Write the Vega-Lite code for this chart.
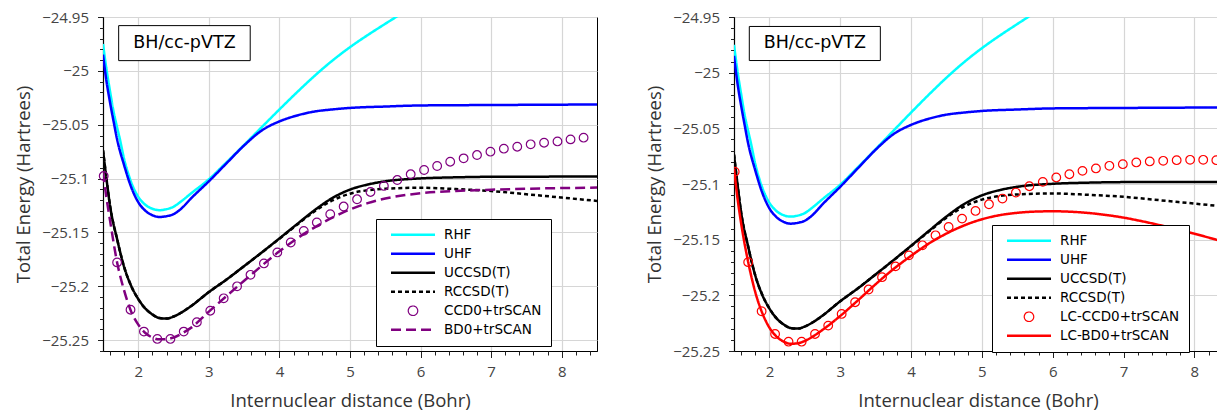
{
  "$schema": "https://vega.github.io/schema/vega-lite/v6.json",
  "padding": {"left": 14, "top": 9, "right": 0, "bottom": 1},
  "config": {
    "view": {"stroke": "black", "strokeWidth": 1},
    "axis": {"labelFont": "Open Sans", "labelFontSize": 15, "labelColor": "#444", "titleFont": "Open Sans", "titleFontSize": 18.5, "titleFontWeight": "normal", "titleColor": "#333", "domainColor": "black", "domainWidth": 1.2, "tickColor": "#222", "gridColor": "#d6d6d6", "gridWidth": 1.2}
  },
  "datasets": {
    "common": [
      {"series": "RHF", "x": 1.5, "y": -24.975}, {"series": "RHF", "x": 1.55, "y": -24.999}, {"series": "RHF", "x": 1.6, "y": -25.019}, {"series": "RHF", "x": 1.65, "y": -25.038}, {"series": "RHF", "x": 1.7, "y": -25.0525}, {"series": "RHF", "x": 1.74, "y": -25.0636}, {"series": "RHF", "x": 1.8, "y": -25.082}, {"series": "RHF", "x": 1.9, "y": -25.1034}, {"series": "RHF", "x": 2.0, "y": -25.1169}, {"series": "RHF", "x": 2.1, "y": -25.1243}, {"series": "RHF", "x": 2.2, "y": -25.128}, {"series": "RHF", "x": 2.3, "y": -25.1293}, {"series": "RHF", "x": 2.4, "y": -25.1284}, {"series": "RHF", "x": 2.5, "y": -25.1261}, {"series": "RHF", "x": 2.6, "y": -25.1215}, {"series": "RHF", "x": 2.75, "y": -25.1136}, {"series": "RHF", "x": 3.0, "y": -25.1006}, {"series": "RHF", "x": 3.25, "y": -25.0849}, {"series": "RHF", "x": 3.5, "y": -25.0687}, {"series": "RHF", "x": 3.75, "y": -25.0522}, {"series": "RHF", "x": 4.0, "y": -25.0358}, {"series": "RHF", "x": 4.25, "y": -25.0198}, {"series": "RHF", "x": 4.5, "y": -25.0045}, {"series": "RHF", "x": 4.75, "y": -24.9905}, {"series": "RHF", "x": 5.0, "y": -24.978}, {"series": "RHF", "x": 5.25, "y": -24.9668}, {"series": "RHF", "x": 5.5, "y": -24.9563}, {"series": "RHF", "x": 5.75, "y": -24.946},
      {"series": "UHF", "x": 1.5, "y": -24.985}, {"series": "UHF", "x": 1.55, "y": -25.01}, {"series": "UHF", "x": 1.6, "y": -25.0294}, {"series": "UHF", "x": 1.65, "y": -25.0469}, {"series": "UHF", "x": 1.7, "y": -25.0636}, {"series": "UHF", "x": 1.8, "y": -25.0877}, {"series": "UHF", "x": 1.9, "y": -25.108}, {"series": "UHF", "x": 2.0, "y": -25.1219}, {"series": "UHF", "x": 2.1, "y": -25.1298}, {"series": "UHF", "x": 2.2, "y": -25.134}, {"series": "UHF", "x": 2.3, "y": -25.1356}, {"series": "UHF", "x": 2.4, "y": -25.1349}, {"series": "UHF", "x": 2.5, "y": -25.133}, {"series": "UHF", "x": 2.6, "y": -25.1284}, {"series": "UHF", "x": 2.75, "y": -25.1182}, {"series": "UHF", "x": 3.0, "y": -25.1025}, {"series": "UHF", "x": 3.25, "y": -25.0858}, {"series": "UHF", "x": 3.5, "y": -25.0692}, {"series": "UHF", "x": 3.75, "y": -25.0553}, {"series": "UHF", "x": 4.0, "y": -25.0469}, {"series": "UHF", "x": 4.25, "y": -25.0414}, {"series": "UHF", "x": 4.5, "y": -25.0377}, {"series": "UHF", "x": 4.75, "y": -25.0358}, {"series": "UHF", "x": 5.0, "y": -25.0344}, {"series": "UHF", "x": 5.5, "y": -25.0331}, {"series": "UHF", "x": 6.0, "y": -25.0321}, {"series": "UHF", "x": 7.0, "y": -25.0317}, {"series": "UHF", "x": 8.5, "y": -25.0312},
      {"series": "UCCSD(T)", "x": 1.5, "y": -25.0737}, {"series": "UCCSD(T)", "x": 1.55, "y": -25.1006}, {"series": "UCCSD(T)", "x": 1.6, "y": -25.1254}, {"series": "UCCSD(T)", "x": 1.7, "y": -25.1562}, {"series": "UCCSD(T)", "x": 1.8, "y": -25.1821}, {"series": "UCCSD(T)", "x": 1.9, "y": -25.1997}, {"series": "UCCSD(T)", "x": 2.0, "y": -25.2118}, {"series": "UCCSD(T)", "x": 2.1, "y": -25.2206}, {"series": "UCCSD(T)", "x": 2.2, "y": -25.2261}, {"series": "UCCSD(T)", "x": 2.3, "y": -25.2294}, {"series": "UCCSD(T)", "x": 2.4, "y": -25.2299}, {"series": "UCCSD(T)", "x": 2.5, "y": -25.228}, {"series": "UCCSD(T)", "x": 2.6, "y": -25.2247}, {"series": "UCCSD(T)", "x": 2.75, "y": -25.2182}, {"series": "UCCSD(T)", "x": 3.0, "y": -25.2053}, {"series": "UCCSD(T)", "x": 3.25, "y": -25.1937}, {"series": "UCCSD(T)", "x": 3.5, "y": -25.1812}, {"series": "UCCSD(T)", "x": 3.75, "y": -25.1685}, {"series": "UCCSD(T)", "x": 4.0, "y": -25.1555}, {"series": "UCCSD(T)", "x": 4.25, "y": -25.1422}, {"series": "UCCSD(T)", "x": 4.5, "y": -25.1292}, {"series": "UCCSD(T)", "x": 4.75, "y": -25.118}, {"series": "UCCSD(T)", "x": 5.0, "y": -25.1102}, {"series": "UCCSD(T)", "x": 5.25, "y": -25.1055}, {"series": "UCCSD(T)", "x": 5.5, "y": -25.1025}, {"series": "UCCSD(T)", "x": 6.0, "y": -25.0998}, {"series": "UCCSD(T)", "x": 6.5, "y": -25.0988}, {"series": "UCCSD(T)", "x": 7.0, "y": -25.0983}, {"series": "UCCSD(T)", "x": 8.5, "y": -25.0981},
      {"series": "RCCSD(T)", "x": 1.5, "y": -25.0737}, {"series": "RCCSD(T)", "x": 1.55, "y": -25.1006}, {"series": "RCCSD(T)", "x": 1.6, "y": -25.1254}, {"series": "RCCSD(T)", "x": 1.7, "y": -25.1562}, {"series": "RCCSD(T)", "x": 1.8, "y": -25.1821}, {"series": "RCCSD(T)", "x": 1.9, "y": -25.1997}, {"series": "RCCSD(T)", "x": 2.0, "y": -25.2118}, {"series": "RCCSD(T)", "x": 2.1, "y": -25.2206}, {"series": "RCCSD(T)", "x": 2.2, "y": -25.2261}, {"series": "RCCSD(T)", "x": 2.3, "y": -25.2294}, {"series": "RCCSD(T)", "x": 2.4, "y": -25.2299}, {"series": "RCCSD(T)", "x": 2.5, "y": -25.228}, {"series": "RCCSD(T)", "x": 2.6, "y": -25.2247}, {"series": "RCCSD(T)", "x": 2.75, "y": -25.2182}, {"series": "RCCSD(T)", "x": 3.0, "y": -25.2053}, {"series": "RCCSD(T)", "x": 3.25, "y": -25.1937}, {"series": "RCCSD(T)", "x": 3.5, "y": -25.1812}, {"series": "RCCSD(T)", "x": 3.75, "y": -25.1686}, {"series": "RCCSD(T)", "x": 4.0, "y": -25.1558}, {"series": "RCCSD(T)", "x": 4.25, "y": -25.1428}, {"series": "RCCSD(T)", "x": 4.5, "y": -25.1302}, {"series": "RCCSD(T)", "x": 4.75, "y": -25.1203}, {"series": "RCCSD(T)", "x": 5.0, "y": -25.114}, {"series": "RCCSD(T)", "x": 5.25, "y": -25.1108}, {"series": "RCCSD(T)", "x": 5.5, "y": -25.1094}, {"series": "RCCSD(T)", "x": 6.0, "y": -25.1085}, {"series": "RCCSD(T)", "x": 6.5, "y": -25.1097}, {"series": "RCCSD(T)", "x": 7.0, "y": -25.1115}, {"series": "RCCSD(T)", "x": 7.5, "y": -25.1145}, {"series": "RCCSD(T)", "x": 8.0, "y": -25.1176}, {"series": "RCCSD(T)", "x": 8.5, "y": -25.1207}
    ],
    "bd0": [
      {"series": "BD0+trSCAN", "x": 1.5, "y": -25.094}, {"series": "BD0+trSCAN", "x": 1.55, "y": -25.118}, {"series": "BD0+trSCAN", "x": 1.6, "y": -25.139}, {"series": "BD0+trSCAN", "x": 1.7, "y": -25.1778}, {"series": "BD0+trSCAN", "x": 1.8, "y": -25.204}, {"series": "BD0+trSCAN", "x": 1.9, "y": -25.2235}, {"series": "BD0+trSCAN", "x": 2.0, "y": -25.2355}, {"series": "BD0+trSCAN", "x": 2.1, "y": -25.2433}, {"series": "BD0+trSCAN", "x": 2.2, "y": -25.2475}, {"series": "BD0+trSCAN", "x": 2.3, "y": -25.2492}, {"series": "BD0+trSCAN", "x": 2.4, "y": -25.249}, {"series": "BD0+trSCAN", "x": 2.5, "y": -25.2475}, {"series": "BD0+trSCAN", "x": 2.6, "y": -25.2444}, {"series": "BD0+trSCAN", "x": 2.75, "y": -25.2383}, {"series": "BD0+trSCAN", "x": 3.0, "y": -25.2235}, {"series": "BD0+trSCAN", "x": 3.25, "y": -25.209}, {"series": "BD0+trSCAN", "x": 3.5, "y": -25.1948}, {"series": "BD0+trSCAN", "x": 3.75, "y": -25.1808}, {"series": "BD0+trSCAN", "x": 4.0, "y": -25.1675}, {"series": "BD0+trSCAN", "x": 4.25, "y": -25.1555}, {"series": "BD0+trSCAN", "x": 4.5, "y": -25.1452}, {"series": "BD0+trSCAN", "x": 4.75, "y": -25.1362}, {"series": "BD0+trSCAN", "x": 5.0, "y": -25.1286}, {"series": "BD0+trSCAN", "x": 5.25, "y": -25.1228}, {"series": "BD0+trSCAN", "x": 5.5, "y": -25.1185}, {"series": "BD0+trSCAN", "x": 6.0, "y": -25.1136}, {"series": "BD0+trSCAN", "x": 6.5, "y": -25.1115}, {"series": "BD0+trSCAN", "x": 7.0, "y": -25.1103}, {"series": "BD0+trSCAN", "x": 7.5, "y": -25.1094}, {"series": "BD0+trSCAN", "x": 8.0, "y": -25.1088}, {"series": "BD0+trSCAN", "x": 8.5, "y": -25.1083}
    ],
    "ccd0": [
      {"series": "CCD0+trSCAN", "x": 1.51, "y": -25.0976}, {"series": "CCD0+trSCAN", "x": 1.7, "y": -25.1778}, {"series": "CCD0+trSCAN", "x": 1.89, "y": -25.2217}, {"series": "CCD0+trSCAN", "x": 2.08, "y": -25.242}, {"series": "CCD0+trSCAN", "x": 2.27, "y": -25.2488}, {"series": "CCD0+trSCAN", "x": 2.455, "y": -25.2488}, {"series": "CCD0+trSCAN", "x": 2.644, "y": -25.242}, {"series": "CCD0+trSCAN", "x": 2.83, "y": -25.2333}, {"series": "CCD0+trSCAN", "x": 3.02, "y": -25.2226}, {"series": "CCD0+trSCAN", "x": 3.21, "y": -25.2111}, {"series": "CCD0+trSCAN", "x": 3.4, "y": -25.2}, {"series": "CCD0+trSCAN", "x": 3.59, "y": -25.1893}, {"series": "CCD0+trSCAN", "x": 3.78, "y": -25.1787}, {"series": "CCD0+trSCAN", "x": 3.97, "y": -25.1685}, {"series": "CCD0+trSCAN", "x": 4.16, "y": -25.1593}, {"series": "CCD0+trSCAN", "x": 4.345, "y": -25.1485}, {"series": "CCD0+trSCAN", "x": 4.53, "y": -25.1407}, {"series": "CCD0+trSCAN", "x": 4.72, "y": -25.133}, {"series": "CCD0+trSCAN", "x": 4.91, "y": -25.1259}, {"series": "CCD0+trSCAN", "x": 5.1, "y": -25.1192}, {"series": "CCD0+trSCAN", "x": 5.29, "y": -25.1124}, {"series": "CCD0+trSCAN", "x": 5.48, "y": -25.1068}, {"series": "CCD0+trSCAN", "x": 5.67, "y": -25.1013}, {"series": "CCD0+trSCAN", "x": 5.86, "y": -25.096}, {"series": "CCD0+trSCAN", "x": 6.05, "y": -25.092}, {"series": "CCD0+trSCAN", "x": 6.235, "y": -25.0883}, {"series": "CCD0+trSCAN", "x": 6.42, "y": -25.0843}, {"series": "CCD0+trSCAN", "x": 6.61, "y": -25.0812}, {"series": "CCD0+trSCAN", "x": 6.8, "y": -25.0781}, {"series": "CCD0+trSCAN", "x": 6.99, "y": -25.075}, {"series": "CCD0+trSCAN", "x": 7.18, "y": -25.0722}, {"series": "CCD0+trSCAN", "x": 7.37, "y": -25.0704}, {"series": "CCD0+trSCAN", "x": 7.56, "y": -25.0682}, {"series": "CCD0+trSCAN", "x": 7.75, "y": -25.0667}, {"series": "CCD0+trSCAN", "x": 7.94, "y": -25.0655}, {"series": "CCD0+trSCAN", "x": 8.125, "y": -25.0636}, {"series": "CCD0+trSCAN", "x": 8.31, "y": -25.062}
    ],
    "lcbd0": [
      {"series": "LC-BD0+trSCAN", "x": 1.5, "y": -25.086}, {"series": "LC-BD0+trSCAN", "x": 1.55, "y": -25.113}, {"series": "LC-BD0+trSCAN", "x": 1.6, "y": -25.135}, {"series": "LC-BD0+trSCAN", "x": 1.7, "y": -25.17}, {"series": "LC-BD0+trSCAN", "x": 1.8, "y": -25.197}, {"series": "LC-BD0+trSCAN", "x": 1.9, "y": -25.216}, {"series": "LC-BD0+trSCAN", "x": 2.0, "y": -25.229}, {"series": "LC-BD0+trSCAN", "x": 2.1, "y": -25.237}, {"series": "LC-BD0+trSCAN", "x": 2.2, "y": -25.2415}, {"series": "LC-BD0+trSCAN", "x": 2.3, "y": -25.2435}, {"series": "LC-BD0+trSCAN", "x": 2.4, "y": -25.243}, {"series": "LC-BD0+trSCAN", "x": 2.5, "y": -25.241}, {"series": "LC-BD0+trSCAN", "x": 2.6, "y": -25.2375}, {"series": "LC-BD0+trSCAN", "x": 2.75, "y": -25.231}, {"series": "LC-BD0+trSCAN", "x": 3.0, "y": -25.2185}, {"series": "LC-BD0+trSCAN", "x": 3.25, "y": -25.2045}, {"series": "LC-BD0+trSCAN", "x": 3.5, "y": -25.19}, {"series": "LC-BD0+trSCAN", "x": 3.75, "y": -25.1765}, {"series": "LC-BD0+trSCAN", "x": 4.0, "y": -25.1645}, {"series": "LC-BD0+trSCAN", "x": 4.25, "y": -25.1535}, {"series": "LC-BD0+trSCAN", "x": 4.5, "y": -25.1445}, {"series": "LC-BD0+trSCAN", "x": 4.75, "y": -25.1372}, {"series": "LC-BD0+trSCAN", "x": 5.0, "y": -25.1317}, {"series": "LC-BD0+trSCAN", "x": 5.25, "y": -25.128}, {"series": "LC-BD0+trSCAN", "x": 5.5, "y": -25.1259}, {"series": "LC-BD0+trSCAN", "x": 5.75, "y": -25.1248}, {"series": "LC-BD0+trSCAN", "x": 6.0, "y": -25.1245}, {"series": "LC-BD0+trSCAN", "x": 6.25, "y": -25.1249}, {"series": "LC-BD0+trSCAN", "x": 6.5, "y": -25.126}, {"series": "LC-BD0+trSCAN", "x": 6.75, "y": -25.1278}, {"series": "LC-BD0+trSCAN", "x": 7.0, "y": -25.1302}, {"series": "LC-BD0+trSCAN", "x": 7.25, "y": -25.1333}, {"series": "LC-BD0+trSCAN", "x": 7.5, "y": -25.1368}, {"series": "LC-BD0+trSCAN", "x": 7.75, "y": -25.1406}, {"series": "LC-BD0+trSCAN", "x": 8.0, "y": -25.1446}, {"series": "LC-BD0+trSCAN", "x": 8.25, "y": -25.149}, {"series": "LC-BD0+trSCAN", "x": 8.5, "y": -25.1535}
    ],
    "lcccd0": [
      {"series": "LC-CCD0+trSCAN", "x": 1.51, "y": -25.089}, {"series": "LC-CCD0+trSCAN", "x": 1.7, "y": -25.1702}, {"series": "LC-CCD0+trSCAN", "x": 1.89, "y": -25.2143}, {"series": "LC-CCD0+trSCAN", "x": 2.08, "y": -25.2347}, {"series": "LC-CCD0+trSCAN", "x": 2.27, "y": -25.2416}, {"series": "LC-CCD0+trSCAN", "x": 2.455, "y": -25.2416}, {"series": "LC-CCD0+trSCAN", "x": 2.644, "y": -25.2347}, {"series": "LC-CCD0+trSCAN", "x": 2.83, "y": -25.2272}, {"series": "LC-CCD0+trSCAN", "x": 3.02, "y": -25.2167}, {"series": "LC-CCD0+trSCAN", "x": 3.21, "y": -25.2062}, {"series": "LC-CCD0+trSCAN", "x": 3.4, "y": -25.1948}, {"series": "LC-CCD0+trSCAN", "x": 3.59, "y": -25.1837}, {"series": "LC-CCD0+trSCAN", "x": 3.78, "y": -25.174}, {"series": "LC-CCD0+trSCAN", "x": 3.97, "y": -25.1641}, {"series": "LC-CCD0+trSCAN", "x": 4.16, "y": -25.1551}, {"series": "LC-CCD0+trSCAN", "x": 4.345, "y": -25.1461}, {"series": "LC-CCD0+trSCAN", "x": 4.53, "y": -25.1386}, {"series": "LC-CCD0+trSCAN", "x": 4.72, "y": -25.1311}, {"series": "LC-CCD0+trSCAN", "x": 4.91, "y": -25.1242}, {"series": "LC-CCD0+trSCAN", "x": 5.1, "y": -25.1182}, {"series": "LC-CCD0+trSCAN", "x": 5.29, "y": -25.1131}, {"series": "LC-CCD0+trSCAN", "x": 5.48, "y": -25.1077}, {"series": "LC-CCD0+trSCAN", "x": 5.67, "y": -25.102}, {"series": "LC-CCD0+trSCAN", "x": 5.86, "y": -25.0981}, {"series": "LC-CCD0+trSCAN", "x": 6.05, "y": -25.0941}, {"series": "LC-CCD0+trSCAN", "x": 6.235, "y": -25.0912}, {"series": "LC-CCD0+trSCAN", "x": 6.42, "y": -25.0882}, {"series": "LC-CCD0+trSCAN", "x": 6.61, "y": -25.086}, {"series": "LC-CCD0+trSCAN", "x": 6.8, "y": -25.0837}, {"series": "LC-CCD0+trSCAN", "x": 6.99, "y": -25.0822}, {"series": "LC-CCD0+trSCAN", "x": 7.18, "y": -25.0806}, {"series": "LC-CCD0+trSCAN", "x": 7.37, "y": -25.0797}, {"series": "LC-CCD0+trSCAN", "x": 7.56, "y": -25.0792}, {"series": "LC-CCD0+trSCAN", "x": 7.75, "y": -25.0786}, {"series": "LC-CCD0+trSCAN", "x": 7.94, "y": -25.0783}, {"series": "LC-CCD0+trSCAN", "x": 8.125, "y": -25.0783}, {"series": "LC-CCD0+trSCAN", "x": 8.31, "y": -25.0786}
    ]
  },
  "spacing": 47,
  "resolve": {"scale": {"color": "independent", "strokeDash": "independent"}, "legend": {"color": "independent"}},
  "hconcat": [
    {
      "width": 494,
      "height": 334,
      "resolve": {"axis": {"x": "independent", "y": "independent"}},
      "layer": [
        {
          "data": {"name": "common"},
          "mark": {"type": "line", "strokeWidth": 2.5, "clip": true, "interpolate": "monotone"},
          "encoding": {
            "x": {"field": "x", "type": "quantitative", "scale": {"domain": [1.5, 8.5], "nice": false, "zero": false},
                  "axis": {"orient": "bottom", "values": [2, 3, 4, 5, 6, 7, 8], "format": "~g", "grid": true, "tickSize": 6.5, "labelPadding": 7, "title": "Internuclear distance (Bohr)", "titlePadding": 12}},
            "y": {"field": "y", "type": "quantitative", "scale": {"domain": [-25.26, -24.95], "nice": false, "zero": false},
                  "axis": {"orient": "left", "values": [-25.25, -25.2, -25.15, -25.1, -25.05, -25, -24.95], "format": "~g", "grid": true, "tickSize": 5.5, "labelPadding": 9, "title": "Total Energy (Hartrees)", "titlePadding": 8}},
            "color": {"field": "series", "type": "nominal",
                      "scale": {"domain": ["RHF", "UHF", "UCCSD(T)", "RCCSD(T)", "CCD0+trSCAN", "BD0+trSCAN"], "range": ["#00ffff", "#0000ff", "#000000", "#000000", "#800080", "#800080"]},
                      "legend": {"orient": "none", "legendX": 273, "legendY": 202, "title": null, "symbolType": "stroke", "symbolSize": 1936, "symbolStrokeWidth": 2.5, "labelFont": "DejaVu Sans", "labelFontSize": 13.5, "labelColor": "black", "rowPadding": 4, "padding": 9, "strokeColor": "black", "fillColor": "white", "cornerRadius": 0,
                        "encode": {
                          "symbols": {"update": {
                            "x": {"value": 28},
                            "shape": {"signal": "datum.value === 'CCD0+trSCAN' ? 'M0.216,0A0.216,0.216,0,1,1,-0.216,0A0.216,0.216,0,1,1,0.216,0Z' : 'stroke'"},
                            "strokeWidth": {"signal": "datum.value === 'CCD0+trSCAN' ? 1.2 : 2.5"},
                            "strokeDash": {"signal": "datum.value === 'RCCSD(T)' ? [4, 3] : (datum.value === 'BD0+trSCAN' ? [10, 5] : [1, 0])"},
                            "fill": {"value": "transparent"}
                          }},
                          "labels": {"update": {"x": {"value": 59}}}
                        }}},
            "strokeDash": {"field": "series", "type": "nominal", "legend": null,
                           "scale": {"domain": ["RHF", "UHF", "UCCSD(T)", "RCCSD(T)", "CCD0+trSCAN", "BD0+trSCAN"], "range": [[1, 0], [1, 0], [1, 0], [4, 3], [1, 0], [10, 5]]}}
          }
        },
        {
          "data": {"name": "bd0"},
          "mark": {"type": "line", "strokeWidth": 2.5, "clip": true, "interpolate": "monotone"},
          "encoding": {
            "x": {"field": "x", "type": "quantitative", "axis": null},
            "y": {"field": "y", "type": "quantitative", "axis": null},
            "color": {"field": "series", "type": "nominal"},
            "strokeDash": {"field": "series", "type": "nominal", "legend": null}
          }
        },
        {
          "data": {"name": "ccd0"},
          "mark": {"type": "point", "shape": "circle", "filled": false, "size": 75, "strokeWidth": 1.2, "opacity": 1},
          "encoding": {
            "x": {"field": "x", "type": "quantitative",
                  "axis": {"orient": "bottom", "values": [1.6, 1.8, 2.2, 2.4, 2.6, 2.8, 3.2, 3.4, 3.6, 3.8, 4.2, 4.4, 4.6, 4.8, 5.2, 5.4, 5.6, 5.8, 6.2, 6.4, 6.6, 6.8, 7.2, 7.4, 7.6, 7.8, 8.2, 8.4], "labels": false, "grid": false, "domain": false, "tickSize": 4, "title": null}},
            "y": {"field": "y", "type": "quantitative",
                  "axis": {"orient": "left", "values": [-25.26, -25.24, -25.23, -25.22, -25.21, -25.19, -25.18, -25.17, -25.16, -25.14, -25.13, -25.12, -25.11, -25.09, -25.08, -25.07, -25.06, -25.04, -25.03, -25.02, -25.01, -24.99, -24.98, -24.97, -24.96], "labels": false, "grid": false, "domain": false, "tickSize": 3.5, "title": null}},
            "color": {"field": "series", "type": "nominal"}
          }
        },
        {
          "data": {"values": [{}]},
          "mark": {"type": "rect", "fill": "white", "stroke": "black", "strokeWidth": 1},
          "encoding": {
            "x": {"datum": 1.722, "type": "quantitative", "axis": null},
            "x2": {"datum": 3.586},
            "y": {"datum": -24.958, "type": "quantitative", "axis": null},
            "y2": {"datum": -24.9905}
          }
        },
        {
          "data": {"values": [{}]},
          "mark": {"type": "text", "text": "BH/cc-pVTZ", "font": "DejaVu Sans", "fontSize": 17.5, "color": "black", "align": "center", "baseline": "middle"},
          "encoding": {
            "x": {"datum": 2.654, "type": "quantitative", "axis": null},
            "y": {"datum": -24.9743, "type": "quantitative", "axis": null}
          }
        }
      ]
    },
    {
      "width": 488,
      "height": 334,
      "resolve": {"axis": {"x": "independent", "y": "independent"}},
      "layer": [
        {
          "data": {"name": "common"},
          "mark": {"type": "line", "strokeWidth": 2.5, "clip": true, "interpolate": "monotone"},
          "encoding": {
            "x": {"field": "x", "type": "quantitative", "scale": {"domain": [1.5, 8.39], "nice": false, "zero": false},
                  "axis": {"orient": "bottom", "values": [2, 3, 4, 5, 6, 7, 8], "format": "~g", "grid": true, "tickSize": 6.5, "labelPadding": 7, "title": "Internuclear distance (Bohr)", "titlePadding": 12}},
            "y": {"field": "y", "type": "quantitative", "scale": {"domain": [-25.25, -24.95], "nice": false, "zero": false},
                  "axis": {"orient": "left", "values": [-25.25, -25.2, -25.15, -25.1, -25.05, -25, -24.95], "format": "~g", "grid": true, "tickSize": 5.5, "labelPadding": 9, "title": "Total Energy (Hartrees)", "titlePadding": 8}},
            "color": {"field": "series", "type": "nominal",
                      "scale": {"domain": ["RHF", "UHF", "UCCSD(T)", "RCCSD(T)", "LC-CCD0+trSCAN", "LC-BD0+trSCAN"], "range": ["#00ffff", "#0000ff", "#000000", "#000000", "#ff0000", "#ff0000"]},
                      "legend": {"orient": "none", "legendX": 258, "legendY": 208, "title": null, "symbolType": "stroke", "symbolSize": 1936, "symbolStrokeWidth": 2.5, "labelFont": "DejaVu Sans", "labelFontSize": 13.5, "labelColor": "black", "rowPadding": 4, "padding": 9, "strokeColor": "black", "fillColor": "white", "cornerRadius": 0,
                        "encode": {
                          "symbols": {"update": {
                            "x": {"value": 28},
                            "shape": {"signal": "datum.value === 'LC-CCD0+trSCAN' ? 'M0.216,0A0.216,0.216,0,1,1,-0.216,0A0.216,0.216,0,1,1,0.216,0Z' : 'stroke'"},
                            "strokeWidth": {"signal": "datum.value === 'LC-CCD0+trSCAN' ? 1.2 : 2.5"},
                            "strokeDash": {"signal": "datum.value === 'RCCSD(T)' ? [4, 3] : [1, 0]"},
                            "fill": {"value": "transparent"}
                          }},
                          "labels": {"update": {"x": {"value": 59}}}
                        }}},
            "strokeDash": {"field": "series", "type": "nominal", "legend": null,
                           "scale": {"domain": ["RHF", "UHF", "UCCSD(T)", "RCCSD(T)", "LC-CCD0+trSCAN", "LC-BD0+trSCAN"], "range": [[1, 0], [1, 0], [1, 0], [4, 3], [1, 0], [1, 0]]}}
          }
        },
        {
          "data": {"name": "lcbd0"},
          "mark": {"type": "line", "strokeWidth": 2.5, "clip": true, "interpolate": "monotone"},
          "encoding": {
            "x": {"field": "x", "type": "quantitative", "axis": null},
            "y": {"field": "y", "type": "quantitative", "axis": null},
            "color": {"field": "series", "type": "nominal"},
            "strokeDash": {"field": "series", "type": "nominal", "legend": null}
          }
        },
        {
          "data": {"name": "lcccd0"},
          "mark": {"type": "point", "shape": "circle", "filled": false, "size": 75, "strokeWidth": 1.2, "opacity": 1, "clip": true},
          "encoding": {
            "x": {"field": "x", "type": "quantitative",
                  "axis": {"orient": "bottom", "values": [1.6, 1.8, 2.2, 2.4, 2.6, 2.8, 3.2, 3.4, 3.6, 3.8, 4.2, 4.4, 4.6, 4.8, 5.2, 5.4, 5.6, 5.8, 6.2, 6.4, 6.6, 6.8, 7.2, 7.4, 7.6, 7.8, 8.2], "labels": false, "grid": false, "domain": false, "tickSize": 4, "title": null}},
            "y": {"field": "y", "type": "quantitative",
                  "axis": {"orient": "left", "values": [-25.24, -25.23, -25.22, -25.21, -25.19, -25.18, -25.17, -25.16, -25.14, -25.13, -25.12, -25.11, -25.09, -25.08, -25.07, -25.06, -25.04, -25.03, -25.02, -25.01, -24.99, -24.98, -24.97, -24.96], "labels": false, "grid": false, "domain": false, "tickSize": 3.5, "title": null}},
            "color": {"field": "series", "type": "nominal"}
          }
        },
        {
          "data": {"values": [{}]},
          "mark": {"type": "rect", "fill": "white", "stroke": "black", "strokeWidth": 1},
          "encoding": {
            "x": {"datum": 1.716, "type": "quantitative", "axis": null},
            "x2": {"datum": 3.566},
            "y": {"datum": -24.9585, "type": "quantitative", "axis": null},
            "y2": {"datum": -24.9891}
          }
        },
        {
          "data": {"values": [{}]},
          "mark": {"type": "text", "text": "BH/cc-pVTZ", "font": "DejaVu Sans", "fontSize": 17.5, "color": "black", "align": "center", "baseline": "middle"},
          "encoding": {
            "x": {"datum": 2.641, "type": "quantitative", "axis": null},
            "y": {"datum": -24.9738, "type": "quantitative", "axis": null}
          }
        }
      ]
    }
  ]
}
